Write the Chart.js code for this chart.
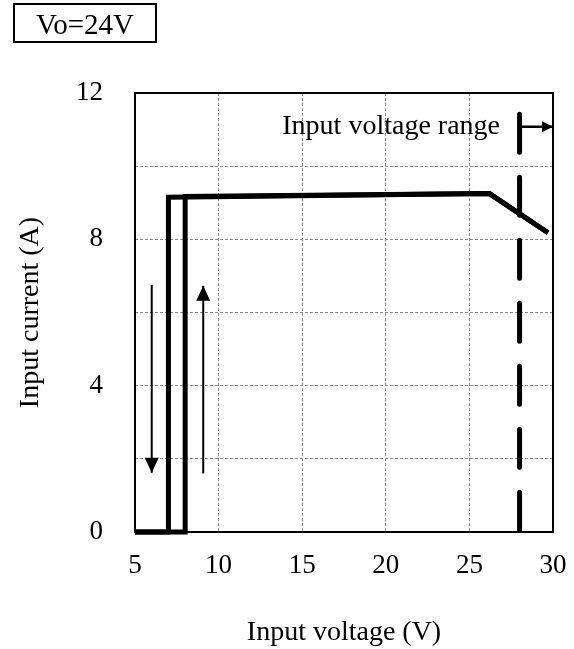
<!DOCTYPE html>
<html>
<head>
<meta charset="utf-8">
<script src="https://cdn.jsdelivr.net/npm/chart.js@4"></script>
<style>
  html, body { margin: 0; padding: 0; background: #fff; }
  #wrap { position: relative; width: 574px; height: 649px; }
  #vo {
    position: absolute; left: 13px; top: 3px; width: 140px; height: 36px;
    border: 2px solid #000; font-family: "Liberation Serif", serif; font-size: 29px;
    line-height: 38px; text-align: center;
  }
</style>
</head>
<body>
<div id="wrap">
  <canvas id="ivChart" width="574" height="649"></canvas>
  <div id="vo">Vo=24V</div>
</div>
<script>
// Input current vs input voltage, sweeping up and down
const rampUpV   = [5, 8, 8, 26.2, 29.7];
const rampUpA   = [0, 0, 9.17, 9.25, 8.18];
const rampDownV = [29.7, 26.2, 7, 7, 5];
const rampDownA = [8.18, 9.25, 9.15, 0, 0];

// Upper limit of input voltage range
const rangeV = [28, 28];
const rangeA = [11.42, 0];
const rangeArrowV = [28, 30];
const rangeArrowA = [11.08, 11.08];

// Direction hints for the hysteresis
const downHintV = [6.0, 6.0];
const downHintA = [6.75, 1.62];
const upHintV = [9.08, 9.08];
const upHintA = [1.6, 6.73];

const xTicks = [5, 10, 15, 20, 25, 30];
const yLabels = [0, 4, 8, 12];

const serif = '"Liberation Serif", "Times New Roman", serif';

function pts(xs, ys) {
    return xs.map((x, i) => ({ x: x, y: ys[i] }));
}

// plot frame drawn on top of the grid
const frame = {
    id: 'frame',
    beforeDatasetsDraw(chart) {
        const a = chart.chartArea;
        const c = chart.ctx;
        c.save();
        c.strokeStyle = '#000';
        c.lineWidth = 2;
        c.strokeRect(a.left, a.top, a.right - a.left, a.bottom - a.top);
        c.restore();
    }
};

// triangle heads at the last point of datasets flagged with arrowHead
const arrowHeads = {
    id: 'arrowHeads',
    afterDatasetsDraw(chart) {
        const c = chart.ctx;
        chart.data.datasets.forEach((ds, i) => {
            if (!ds.arrowHead) return;
            const pts = chart.getDatasetMeta(i).data;
            const p1 = pts[pts.length - 2], p2 = pts[pts.length - 1];
            const ang = Math.atan2(p2.y - p1.y, p2.x - p1.x);
            const len = ds.arrowHead.length, half = ds.arrowHead.width / 2;
            c.save();
            c.translate(p2.x, p2.y);
            c.rotate(ang);
            c.beginPath();
            c.moveTo(0, 0);
            c.lineTo(-len, -half);
            c.lineTo(-len, half);
            c.closePath();
            c.fillStyle = '#000';
            c.fill();
            c.restore();
        });
    }
};

// text label for the voltage range
const rangeLabel = {
    id: 'rangeLabel',
    afterDatasetsDraw(chart) {
        const c = chart.ctx;
        const x = chart.scales.x.getPixelForValue(26.83);
        const y = chart.scales.y.getPixelForValue(10.88);
        c.save();
        c.font = '28px ' + serif;
        c.fillStyle = '#000';
        c.textAlign = 'right';
        c.textBaseline = 'alphabetic';
        c.fillText('Input voltage range', x, y);
        c.restore();
    }
};

const thick = { borderColor: '#000', borderWidth: 5, pointRadius: 0, fill: false, clip: false, tension: 0 };
const thin = { borderColor: '#000', borderWidth: 2, pointRadius: 0, fill: false, clip: false, tension: 0 };

new Chart(document.getElementById('ivChart'), {
    type: 'line',
    data: {
        datasets: [
            Object.assign({ label: 'Ramp up', data: pts(rampUpV, rampUpA) }, thick),
            Object.assign({ label: 'Ramp down', data: pts(rampDownV, rampDownA) }, thick),
            Object.assign({ label: 'Range limit', data: pts(rangeV, rangeA), borderDash: [38, 25], borderCapStyle: 'round' }, thick),
            Object.assign({ label: 'Range arrow', data: pts(rangeArrowV, rangeArrowA), arrowHead: { length: 11, width: 11 } }, thin, { borderWidth: 2.5 }),
            Object.assign({ label: 'Down hint', data: pts(downHintV, downHintA), arrowHead: { length: 15, width: 14 } }, thin),
            Object.assign({ label: 'Up hint', data: pts(upHintV, upHintA), arrowHead: { length: 15, width: 14 } }, thin)
        ]
    },
    options: {
        responsive: false,
        animation: false,
        layout: { padding: { left: 0, right: 21, top: 93, bottom: 0 } },
        plugins: { legend: { display: false }, tooltip: { enabled: false } },
        scales: {
            x: {
                type: 'linear',
                min: 5,
                max: 30,
                afterFit(s) { s.height = 117; s.paddingLeft = 0; s.paddingRight = 0; },
                afterBuildTicks(s) { s.ticks = xTicks.map(v => ({ value: v })); },
                grid: { color: '#8a8a8a', lineWidth: 1, drawTicks: false },
                border: { display: false, dash: [3, 2] },
                ticks: { color: '#000', padding: 18, maxRotation: 0, font: { family: serif, size: 27 } },
                title: { display: true, text: 'Input voltage (V)', color: '#000', padding: { top: 0, bottom: 0 }, font: { family: serif, size: 28 } }
            },
            y: {
                type: 'linear',
                min: 0,
                max: 12,
                afterFit(s) { s.width = 135; s.paddingTop = 0; s.paddingBottom = 0; },
                ticks: {
                    stepSize: 2,
                    color: '#000',
                    padding: 32,
                    font: { family: serif, size: 27 },
                    callback: v => yLabels.includes(v) ? String(v) : ''
                },
                grid: { color: '#8a8a8a', lineWidth: 1, drawTicks: false },
                border: { display: false, dash: [3, 2] },
                title: { display: true, text: 'Input current (A)', color: '#000', padding: { top: 14, bottom: 0 }, font: { family: serif, size: 28 } }
            }
        }
    },
    plugins: [frame, arrowHeads, rangeLabel]
});
</script>
</body>
</html>
